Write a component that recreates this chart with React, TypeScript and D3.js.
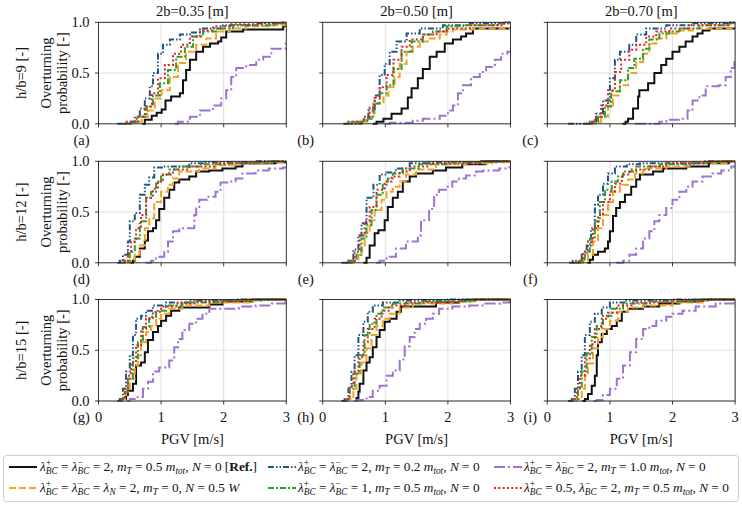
import React from "react";
import * as d3 from "d3";

type Pt = [number, number];

// Step points [PGV, probability after the step], panels a..i
const refCurves: Pt[][] = [
  [[0.70,0],[0.74,0.04],[0.85,0.08],[0.93,0.11],[1.01,0.14],[1.07,0.23],[1.16,0.27],[1.30,0.30],[1.35,0.43],[1.40,0.53],[1.46,0.63],[1.56,0.71],[1.67,0.76],[1.78,0.79],[1.91,0.81],[1.96,0.85],[2.04,0.91],[2.31,0.93],[2.95,0.96]],
  [[0.80,0],[0.86,0.02],[0.97,0.05],[1.10,0.10],[1.26,0.15],[1.36,0.26],[1.42,0.35],[1.52,0.45],[1.60,0.54],[1.71,0.66],[1.82,0.71],[1.95,0.79],[2.08,0.83],[2.21,0.86],[2.29,0.89],[2.40,0.94]],
  [[1.20,0],[1.25,0.02],[1.29,0.05],[1.37,0.15],[1.45,0.27],[1.47,0.33],[1.61,0.40],[1.71,0.50],[1.82,0.58],[1.90,0.64],[2.00,0.71],[2.11,0.76],[2.21,0.81],[2.32,0.86],[2.40,0.89],[2.48,0.92],[2.59,0.94]],
  [[0.50,0],[0.55,0.02],[0.58,0.06],[0.66,0.14],[0.74,0.22],[0.79,0.31],[0.87,0.34],[0.92,0.42],[0.97,0.53],[1.05,0.64],[1.13,0.72],[1.21,0.79],[1.29,0.82],[1.45,0.85],[1.56,0.90],[1.77,0.91],[1.98,0.93],[2.19,0.95],[2.30,0.98],[2.83,0.99]],
  [[0.65,0],[0.70,0.05],[0.75,0.17],[0.83,0.29],[0.89,0.32],[0.99,0.42],[1.04,0.55],[1.12,0.64],[1.20,0.70],[1.28,0.80],[1.39,0.85],[1.49,0.88],[1.76,0.91],[1.97,0.94],[2.23,0.97],[2.60,1.0]],
  [[0.64,0],[0.68,0.03],[0.73,0.08],[0.81,0.11],[0.92,0.14],[0.97,0.21],[1.00,0.31],[1.05,0.46],[1.10,0.54],[1.16,0.60],[1.24,0.67],[1.34,0.75],[1.42,0.82],[1.48,0.87],[1.69,0.90],[1.85,0.93],[2.22,0.95],[2.58,0.98],[2.90,1.0]],
  [[0.36,0],[0.39,0.02],[0.44,0.06],[0.47,0.10],[0.55,0.17],[0.60,0.35],[0.68,0.38],[0.74,0.48],[0.79,0.60],[0.87,0.68],[0.95,0.74],[1.00,0.79],[1.08,0.84],[1.16,0.89],[1.29,0.92],[1.77,0.95],[1.98,0.98],[2.46,1.0]],
  [[0.50,0],[0.54,0.03],[0.57,0.09],[0.59,0.17],[0.65,0.30],[0.70,0.38],[0.75,0.43],[0.80,0.53],[0.86,0.63],[0.91,0.70],[0.99,0.78],[1.07,0.81],[1.18,0.88],[1.25,0.93],[1.81,0.97],[2.18,0.99],[2.44,1.0]],
  [[0.56,0],[0.60,0.02],[0.65,0.07],[0.71,0.15],[0.76,0.25],[0.79,0.45],[0.81,0.58],[0.87,0.66],[0.95,0.71],[1.03,0.74],[1.11,0.79],[1.19,0.88],[1.29,0.91],[1.53,0.93],[1.79,0.96],[2.11,0.98],[2.48,1.0]],
];

const axialCurves: Pt[][] = [
  [[0.50,0],[0.53,0.02],[0.69,0.07],[0.79,0.13],[0.90,0.25],[1.01,0.33],[1.14,0.46],[1.27,0.60],[1.40,0.71],[1.56,0.78],[1.72,0.84],[1.88,0.91],[2.10,0.94],[2.36,0.96],[2.73,0.97],[2.98,0.98]],
  [[0.50,0],[0.54,0.02],[0.70,0.07],[0.83,0.20],[0.97,0.28],[1.05,0.36],[1.15,0.46],[1.23,0.59],[1.34,0.71],[1.44,0.76],[1.55,0.81],[1.71,0.84],[1.87,0.88],[1.98,0.91],[2.08,0.93],[2.40,0.94]],
  [[0.70,0],[0.76,0.02],[0.86,0.07],[0.97,0.18],[1.05,0.28],[1.16,0.38],[1.29,0.50],[1.42,0.61],[1.53,0.69],[1.63,0.79],[1.74,0.84],[1.90,0.89],[2.11,0.92],[2.32,0.94]],
  [[0.45,0],[0.50,0.02],[0.58,0.08],[0.66,0.17],[0.74,0.34],[0.81,0.44],[0.89,0.60],[1.00,0.70],[1.11,0.77],[1.19,0.83],[1.29,0.90],[1.61,0.93],[1.87,0.96],[2.24,0.98],[2.72,0.99],[2.95,1.0]],
  [[0.45,0],[0.49,0.02],[0.57,0.08],[0.62,0.17],[0.67,0.29],[0.75,0.42],[0.83,0.52],[0.94,0.62],[1.02,0.70],[1.12,0.75],[1.23,0.80],[1.33,0.87],[1.49,0.92],[1.81,0.97],[2.29,0.98],[2.71,0.99],[2.95,1.0]],
  [[0.52,0],[0.57,0.02],[0.65,0.08],[0.73,0.21],[0.81,0.34],[0.89,0.47],[0.97,0.60],[1.05,0.70],[1.16,0.77],[1.29,0.82],[1.40,0.88],[1.53,0.93],[1.90,0.95],[2.27,0.98],[2.90,1.0]],
  [[0.36,0],[0.39,0.02],[0.44,0.09],[0.50,0.22],[0.58,0.35],[0.63,0.45],[0.68,0.58],[0.76,0.68],[0.84,0.74],[0.92,0.81],[1.00,0.86],[1.13,0.91],[1.34,0.94],[1.77,0.97],[2.46,1.0]],
  [[0.38,0],[0.41,0.02],[0.49,0.12],[0.54,0.27],[0.62,0.38],[0.70,0.52],[0.78,0.65],[0.86,0.74],[0.96,0.81],[1.07,0.86],[1.23,0.92],[1.44,0.96],[2.07,0.98],[2.44,1.0]],
  [[0.44,0],[0.47,0.02],[0.55,0.12],[0.60,0.25],[0.65,0.37],[0.73,0.52],[0.81,0.63],[0.89,0.71],[1.00,0.79],[1.13,0.88],[1.29,0.92],[1.53,0.94],[2.00,0.97],[2.53,1.0]],
];

const light02Curves: Pt[][] = [
  [[0.30,0],[0.50,0.02],[0.58,0.07],[0.66,0.15],[0.74,0.25],[0.82,0.37],[0.87,0.50],[0.95,0.69],[1.03,0.78],[1.14,0.83],[1.30,0.88],[1.46,0.90],[1.62,0.94],[1.99,0.97],[2.52,0.99],[2.95,1.0]],
  [[0.33,0],[0.62,0.03],[0.73,0.13],[0.83,0.28],[0.91,0.48],[0.99,0.59],[1.07,0.71],[1.18,0.81],[1.34,0.89],[1.55,0.94],[1.92,0.97],[2.35,0.99],[2.90,1.0]],
  [[0.33,0],[0.68,0.02],[0.78,0.10],[0.89,0.23],[1.00,0.45],[1.08,0.63],[1.16,0.71],[1.31,0.78],[1.42,0.88],[1.58,0.94],[1.90,0.97],[2.32,0.99],[2.90,1.0]],
  [[0.30,0],[0.34,0.02],[0.39,0.08],[0.47,0.21],[0.50,0.41],[0.58,0.49],[0.66,0.67],[0.74,0.77],[0.81,0.84],[0.89,0.94],[1.03,0.95],[1.45,0.98],[1.71,0.99],[2.50,1.0]],
  [[0.30,0],[0.41,0.02],[0.49,0.13],[0.57,0.27],[0.62,0.39],[0.70,0.64],[0.81,0.77],[0.91,0.87],[1.02,0.89],[1.17,0.93],[1.39,0.98],[1.70,0.99],[2.50,1.0]],
  [[0.35,0],[0.41,0.02],[0.55,0.08],[0.63,0.17],[0.70,0.34],[0.76,0.57],[0.81,0.67],[0.89,0.78],[0.97,0.88],[1.08,0.95],[1.27,0.97],[1.48,0.98],[2.50,1.0]],
  [[0.30,0],[0.34,0.02],[0.39,0.12],[0.44,0.29],[0.50,0.45],[0.55,0.65],[0.60,0.81],[0.68,0.84],[0.76,0.89],[0.87,0.94],[1.08,0.97],[1.45,0.99],[2.20,1.0]],
  [[0.30,0],[0.35,0.02],[0.41,0.12],[0.46,0.29],[0.51,0.45],[0.57,0.65],[0.65,0.78],[0.72,0.88],[0.80,0.94],[0.96,0.97],[1.23,0.99],[2.00,1.0]],
  [[0.33,0],[0.39,0.02],[0.44,0.12],[0.49,0.29],[0.55,0.45],[0.60,0.65],[0.68,0.78],[0.76,0.86],[0.87,0.92],[1.00,0.97],[1.26,0.99],[2.00,1.0]],
];

const lambda1Curves: Pt[][] = [
  [[0.40,0],[0.47,0.02],[0.63,0.07],[0.77,0.17],[0.87,0.28],[0.98,0.40],[1.11,0.53],[1.24,0.66],[1.38,0.76],[1.51,0.86],[1.67,0.91],[1.88,0.94],[2.15,0.97],[2.84,0.99]],
  [[0.40,0],[0.46,0.02],[0.67,0.05],[0.81,0.20],[0.91,0.30],[1.02,0.38],[1.13,0.54],[1.26,0.71],[1.42,0.81],[1.60,0.88],[1.76,0.91],[1.98,0.96],[2.29,0.97],[2.80,0.99]],
  [[0.65,0],[0.71,0.02],[0.81,0.07],[0.92,0.17],[1.02,0.32],[1.16,0.43],[1.29,0.55],[1.39,0.64],[1.53,0.74],[1.63,0.83],[1.79,0.89],[1.95,0.91],[2.11,0.94],[2.43,0.97],[2.90,0.99]],
  [[0.38,0],[0.42,0.02],[0.50,0.11],[0.58,0.24],[0.66,0.41],[0.76,0.64],[0.84,0.70],[0.92,0.80],[1.00,0.87],[1.13,0.92],[1.29,0.95],[1.61,0.97],[2.08,0.98],[2.80,1.0]],
  [[0.40,0],[0.46,0.02],[0.54,0.08],[0.62,0.24],[0.70,0.37],[0.78,0.52],[0.86,0.67],[0.96,0.77],[1.04,0.83],[1.12,0.88],[1.28,0.93],[1.54,0.97],[2.07,0.99],[2.80,1.0]],
  [[0.45,0],[0.52,0.02],[0.60,0.11],[0.68,0.24],[0.76,0.41],[0.84,0.60],[0.92,0.72],[1.03,0.80],[1.13,0.85],[1.21,0.90],[1.42,0.95],[1.80,0.97],[2.33,0.99],[2.80,1.0]],
  [[0.33,0],[0.37,0.02],[0.42,0.09],[0.47,0.22],[0.55,0.42],[0.63,0.58],[0.71,0.73],[0.81,0.83],[0.92,0.89],[1.08,0.94],[1.34,0.97],[1.98,0.99],[2.60,1.0]],
  [[0.35,0],[0.38,0.02],[0.43,0.12],[0.51,0.27],[0.59,0.45],[0.67,0.65],[0.75,0.76],[0.86,0.86],[0.96,0.92],[1.12,0.96],[1.55,0.98],[2.40,1.0]],
  [[0.38,0],[0.41,0.02],[0.49,0.12],[0.55,0.29],[0.63,0.47],[0.71,0.63],[0.79,0.74],[0.89,0.84],[1.03,0.91],[1.21,0.96],[1.64,0.98],[2.40,1.0]],
];

const heavy10Curves: Pt[][] = [
  [[1.22,0],[1.27,0.02],[1.46,0.07],[1.62,0.13],[1.83,0.18],[1.96,0.25],[2.04,0.33],[2.12,0.46],[2.20,0.55],[2.36,0.58],[2.52,0.63],[2.63,0.66],[2.76,0.74],[2.99,0.79]],
  [[1.02,0],[1.07,0.01],[1.44,0.03],[1.60,0.05],[1.87,0.08],[2.00,0.13],[2.08,0.18],[2.16,0.30],[2.24,0.38],[2.37,0.46],[2.51,0.51],[2.61,0.56],[2.75,0.63],[2.85,0.69],[2.95,0.71]],
  [[1.40,0],[1.79,0.02],[1.90,0.04],[2.16,0.05],[2.24,0.13],[2.32,0.23],[2.43,0.28],[2.53,0.37],[2.74,0.38],[2.85,0.46],[2.93,0.55],[2.99,0.61]],
  [[0.75,0],[0.84,0.02],[0.92,0.06],[1.05,0.11],[1.11,0.21],[1.19,0.31],[1.29,0.34],[1.53,0.47],[1.56,0.55],[1.61,0.62],[1.74,0.65],[1.87,0.70],[1.95,0.79],[2.08,0.80],[2.19,0.83],[2.30,0.88],[2.51,0.91],[2.72,0.93],[2.95,0.94]],
  [[0.85,0],[0.91,0.02],[1.02,0.06],[1.17,0.14],[1.33,0.21],[1.52,0.27],[1.57,0.42],[1.70,0.53],[1.78,0.67],[1.86,0.72],[1.97,0.75],[2.07,0.80],[2.18,0.83],[2.29,0.86],[2.45,0.90],[2.56,0.91],[2.82,0.93],[2.97,0.94]],
  [[1.10,0],[1.21,0.02],[1.31,0.08],[1.42,0.14],[1.53,0.24],[1.63,0.31],[1.71,0.41],[1.79,0.47],[1.90,0.54],[2.00,0.62],[2.11,0.70],[2.22,0.75],[2.32,0.80],[2.48,0.85],[2.64,0.88],[2.78,0.91],[2.94,0.95]],
  [[0.45,0],[0.50,0.02],[0.60,0.04],[0.71,0.12],[0.79,0.19],[0.87,0.29],[0.97,0.33],[1.13,0.40],[1.21,0.53],[1.27,0.61],[1.34,0.70],[1.45,0.76],[1.56,0.81],[1.66,0.86],[1.77,0.91],[2.24,0.93],[2.51,0.94],[2.77,0.96],[2.98,0.97]],
  [[0.50,0],[0.54,0.01],[0.70,0.04],[0.80,0.10],[0.91,0.15],[1.02,0.25],[1.12,0.30],[1.23,0.41],[1.31,0.54],[1.39,0.63],[1.47,0.71],[1.55,0.76],[1.65,0.81],[1.76,0.86],[1.86,0.91],[2.07,0.93],[2.34,0.94],[2.60,0.96],[2.84,0.97],[2.98,0.98]],
  [[0.74,0],[0.79,0.01],[0.89,0.06],[1.00,0.12],[1.11,0.22],[1.21,0.35],[1.32,0.48],[1.42,0.61],[1.53,0.71],[1.63,0.74],[1.74,0.79],[1.90,0.83],[2.00,0.86],[2.16,0.89],[2.37,0.93],[2.69,0.96],[2.98,0.98]],
];

const asymCurves: Pt[][] = [
  [[0.40,0],[0.45,0.02],[0.61,0.07],[0.74,0.17],[0.85,0.30],[0.95,0.45],[1.06,0.58],[1.19,0.69],[1.32,0.78],[1.46,0.86],[1.62,0.92],[1.83,0.96],[2.10,0.98],[2.63,0.99]],
  [[0.36,0],[0.41,0.02],[0.65,0.07],[0.75,0.16],[0.83,0.26],[0.91,0.36],[1.02,0.48],[1.13,0.63],[1.26,0.76],[1.39,0.83],[1.60,0.88],[1.82,0.91],[1.98,0.94],[2.35,0.97],[2.90,0.99]],
  [[0.60,0],[0.68,0.02],[0.76,0.07],[0.86,0.18],[0.97,0.33],[1.08,0.51],[1.18,0.63],[1.31,0.73],[1.42,0.78],[1.58,0.86],[1.74,0.91],[1.95,0.94],[2.27,0.97],[2.90,0.99]],
  [[0.35,0],[0.39,0.02],[0.47,0.11],[0.52,0.21],[0.60,0.34],[0.68,0.47],[0.76,0.64],[0.87,0.73],[0.95,0.80],[1.03,0.87],[1.19,0.92],[1.45,0.95],[1.87,0.98],[2.60,1.0]],
  [[0.38,0],[0.43,0.02],[0.51,0.11],[0.59,0.27],[0.67,0.41],[0.75,0.55],[0.86,0.72],[0.99,0.80],[1.10,0.85],[1.23,0.90],[1.39,0.95],[1.70,0.98],[2.50,1.0]],
  [[0.42,0],[0.49,0.02],[0.57,0.11],[0.65,0.21],[0.73,0.34],[0.81,0.47],[0.89,0.60],[1.00,0.70],[1.08,0.78],[1.19,0.87],[1.32,0.92],[1.64,0.95],[1.90,0.98],[2.60,1.0]],
  [[0.33,0],[0.37,0.02],[0.42,0.12],[0.47,0.25],[0.52,0.38],[0.60,0.55],[0.68,0.71],[0.76,0.81],[0.87,0.88],[1.00,0.93],[1.24,0.96],[1.56,0.98],[2.30,1.0]],
  [[0.35,0],[0.38,0.02],[0.43,0.15],[0.49,0.29],[0.57,0.43],[0.65,0.58],[0.72,0.71],[0.83,0.81],[0.94,0.89],[1.07,0.94],[1.33,0.97],[2.20,1.0]],
  [[0.38,0],[0.41,0.02],[0.47,0.12],[0.52,0.25],[0.60,0.42],[0.68,0.56],[0.76,0.71],[0.87,0.81],[0.97,0.87],[1.11,0.94],[1.37,0.97],[2.00,0.99],[2.60,1.0]],
];

const columnTitles = ["2b=0.35 [m]", "2b=0.50 [m]", "2b=0.70 [m]"];
const rowTitles = ["h/b=9 [-]", "h/b=12 [-]", "h/b=15 [-]"];
const panelLetters = ["(a)", "(b)", "(c)", "(d)", "(e)", "(f)", "(g)", "(h)", "(i)"];
const xTicks = [0, 1, 2, 3];
const yTicks = [0, 0.5, 1];
const yTickLabels = ["0.0", "0.5", "1.0"];
const xLabel = "PGV [m/s]";
const yLabelLines = ["Overturning", "probability [-]"];

type Tok = [string, string, string?];
// legend labels as rich tokens: r roman, i italic, b bold, sub subscript, ss stacked sup/sub
const labelRef: Tok[] = [["λ","i"],["+","ss","BC"],[" = ","r"],["λ","i"],["−","ss","BC"],[" = 2, ","r"],["m","i"],["T","sub"],[" = 0.5 ","r"],["m","i"],["tot","sub"],[", ","r"],["N","i"],[" = 0 [","r"],["Ref.","b"],["]","r"]];
const labelAxial: Tok[] = [["λ","i"],["+","ss","BC"],[" = ","r"],["λ","i"],["−","ss","BC"],[" = ","r"],["λ","i"],["N","sub"],[" = 2, ","r"],["m","i"],["T","sub"],[" = 0, ","r"],["N","i"],[" = 0.5 ","r"],["W","i"]];
const labelLight: Tok[] = [["λ","i"],["+","ss","BC"],[" = ","r"],["λ","i"],["−","ss","BC"],[" = 2, ","r"],["m","i"],["T","sub"],[" = 0.2 ","r"],["m","i"],["tot","sub"],[", ","r"],["N","i"],[" = 0","r"]];
const labelLambda1: Tok[] = [["λ","i"],["+","ss","BC"],[" = ","r"],["λ","i"],["−","ss","BC"],[" = 1, ","r"],["m","i"],["T","sub"],[" = 0.5 ","r"],["m","i"],["tot","sub"],[", ","r"],["N","i"],[" = 0","r"]];
const labelHeavy: Tok[] = [["λ","i"],["+","ss","BC"],[" = ","r"],["λ","i"],["−","ss","BC"],[" = 2, ","r"],["m","i"],["T","sub"],[" = 1.0 ","r"],["m","i"],["tot","sub"],[", ","r"],["N","i"],[" = 0","r"]];
const labelAsym: Tok[] = [["λ","i"],["+","ss","BC"],[" = 0.5, ","r"],["λ","i"],["−","ss","BC"],[" = 2, ","r"],["m","i"],["T","sub"],[" = 0.5 ","r"],["m","i"],["tot","sub"],[", ","r"],["N","i"],[" = 0","r"]];

const series = [
  { data: refCurves, label: labelRef, color: "#111111", dash: "", width: 2 },
  { data: axialCurves, label: labelAxial, color: "#f7a21e", dash: "7,3", width: 2 },
  { data: light02Curves, label: labelLight, color: "#1f5582", dash: "6,2,1.5,2,1.5,2", width: 2 },
  { data: lambda1Curves, label: labelLambda1, color: "#2ca02c", dash: "6,2,2,2", width: 2 },
  { data: heavy10Curves, label: labelHeavy, color: "#9d74cf", dash: "11,3,2,3", width: 2 },
  { data: asymCurves, label: labelAsym, color: "#e0242a", dash: "2,2.3", width: 2 },
];
const drawOrder = [0, 4, 1, 2, 3, 5];

const FONT = "'Liberation Serif', 'Times New Roman', serif";
const FS = 14.5;
const colX = [98.5, 322.7, 547.3];
const rowY = [22.3, 161.3, 299.5];
const PW = 187.8;
const PH = 101.5;

function Rich({ x, y, toks, size }: { x: number; y: number; toks: Tok[]; size: number }) {
  const out: React.ReactNode[] = [];
  let off = 0;
  const small = size * 0.7;
  toks.forEach((t, i) => {
    const [s, k, s2] = t;
    if (k === "ss") {
      const up = -size * 0.4;
      out.push(<tspan key={i + "a"} dy={up - off} fontSize={small}>{s}</tspan>);
      const down = size * 0.25;
      out.push(<tspan key={i + "b"} dx={-small * 0.564} dy={down - up} fontSize={small} fontStyle="italic">{s2}</tspan>);
      off = down;
    } else if (k === "sub") {
      const down = size * 0.25;
      out.push(<tspan key={i} dy={down - off} fontSize={small} fontStyle="italic">{s}</tspan>);
      off = down;
    } else {
      out.push(
        <tspan key={i} dy={-off} fontSize={size} fontStyle={k === "i" ? "italic" : "normal"} fontWeight={k === "b" ? "bold" : "normal"}>{s}</tspan>
      );
      off = 0;
    }
  });
  return (
    <text x={x} y={y} fontFamily={FONT} fontSize={size} style={{ whiteSpace: "pre" }} fill="#111">
      {out}
    </text>
  );
}

function Panel({ idx }: { idx: number }) {
  const r = Math.floor(idx / 3);
  const c = idx % 3;
  const x0 = colX[c];
  const y0 = rowY[r];
  const xs = d3.scaleLinear().domain([0, 3]).range([x0, x0 + PW]);
  const ys = d3.scaleLinear().domain([0, 1]).range([y0 + PH, y0]);
  const line = d3
    .line<Pt>()
    .x((d) => xs(d[0]))
    .y((d) => ys(d[1]))
    .curve(d3.curveStepAfter);
  const clipId = "clip" + idx;
  return (
    <g>
      <defs>
        <clipPath id={clipId}>
          <rect x={x0} y={y0 - 2} width={PW} height={PH + 4} />
        </clipPath>
      </defs>
      {xTicks.map((t) => (
        <line key={"gx" + t} x1={xs(t)} x2={xs(t)} y1={y0} y2={y0 + PH} stroke="#dddddd" strokeWidth={0.9} />
      ))}
      {yTicks.map((t) => (
        <line key={"gy" + t} x1={x0} x2={x0 + PW} y1={ys(t)} y2={ys(t)} stroke="#dddddd" strokeWidth={0.9} />
      ))}
      <g clipPath={`url(#${clipId})`}>
        {drawOrder.map((si) => {
          const s = series[si];
          const d = s.data[idx];
          const last = d[d.length - 1];
          const pts: Pt[] = [...d, [3, last[1]]];
          return (
            <path
              key={si}
              d={line(pts) || ""}
              fill="none"
              stroke={s.color}
              strokeWidth={s.width}
              strokeDasharray={s.dash || undefined}
            />
          );
        })}
      </g>
      <rect x={x0} y={y0} width={PW} height={PH} fill="none" stroke="#222" strokeWidth={0.9} />
      {xTicks.map((t) => (
        <line key={"tx" + t} x1={xs(t)} x2={xs(t)} y1={y0 + PH} y2={y0 + PH + 3.5} stroke="#222" strokeWidth={0.9} />
      ))}
      {yTicks.map((t) => (
        <line key={"ty" + t} x1={x0 - 3.5} x2={x0} y1={ys(t)} y2={ys(t)} stroke="#222" strokeWidth={0.9} />
      ))}
      {c === 0 &&
        yTicks.map((t, i) => (
          <text key={"yl" + t} x={x0 - 9} y={ys(t)} dy="0.33em" textAnchor="end" fontFamily={FONT} fontSize={FS} fill="#111">
            {yTickLabels[i]}
          </text>
        ))}
      {r === 2 &&
        xTicks.map((t) => (
          <text key={"xl" + t} x={xs(t)} y={y0 + PH + 21} textAnchor="middle" fontFamily={FONT} fontSize={FS} fill="#111">
            {String(t)}
          </text>
        ))}
      {r === 2 && (
        <text x={x0 + PW / 2} y={y0 + PH + 43} textAnchor="middle" fontFamily={FONT} fontSize={FS} fill="#111">
          {xLabel}
        </text>
      )}
      <text x={x0 - 17} y={y0 + PH + 21} textAnchor="middle" fontFamily={FONT} fontSize={FS} fill="#111">
        {panelLetters[idx]}
      </text>
      {r === 0 && (
        <text x={x0 + PW / 2} y={y0 - 6} textAnchor="middle" fontFamily={FONT} fontSize={FS} fill="#111">
          {columnTitles[c]}
        </text>
      )}
      {c === 0 && (
        <g>
          <text transform={`translate(21,${y0 + PH / 2}) rotate(-90)`} dy="0.35em" textAnchor="middle" fontFamily={FONT} fontSize={FS} fill="#111">
            {rowTitles[r]}
          </text>
          {yLabelLines.map((s, i) => (
            <text key={i} transform={`translate(${46 + i * 15.5},${y0 + PH / 2}) rotate(-90)`} dy="0.35em" textAnchor="middle" fontFamily={FONT} fontSize={FS} fill="#111">
              {s}
            </text>
          ))}
        </g>
      )}
    </g>
  );
}

const legendCols = [
  { hx: 9, tx: 40 },
  { hx: 268, tx: 298 },
  { hx: 494, tx: 524 },
];
const legendRows = [467, 488];

export default function App() {
  const legendOrder = [0, 1, 2, 3, 4, 5]; // column-major: (col0: 0,1) (col1: 2,3) (col2: 4,5)
  return (
    <svg width={742} height={506} style={{ position: "absolute", left: 0, top: 0, background: "#fff" }}>
      <rect x={0} y={0} width={742} height={506} fill="#fff" />
      {d3.range(9).map((i) => (
        <Panel key={i} idx={i} />
      ))}
      <rect x={3.5} y={455.5} width={735} height={46} rx={3} fill="#fff" stroke="#cccccc" strokeWidth={1} />
      {legendOrder.map((si, k) => {
        const col = legendCols[Math.floor(k / 2)];
        const yy = legendRows[k % 2];
        const s = series[si];
        return (
          <g key={si}>
            <line x1={col.hx} x2={col.hx + 28} y1={yy} y2={yy} stroke={s.color} strokeWidth={s.width} strokeDasharray={s.dash || undefined} />
            <Rich x={col.tx} y={yy + 4} toks={s.label} size={13.3} />
          </g>
        );
      })}
    </svg>
  );
}
